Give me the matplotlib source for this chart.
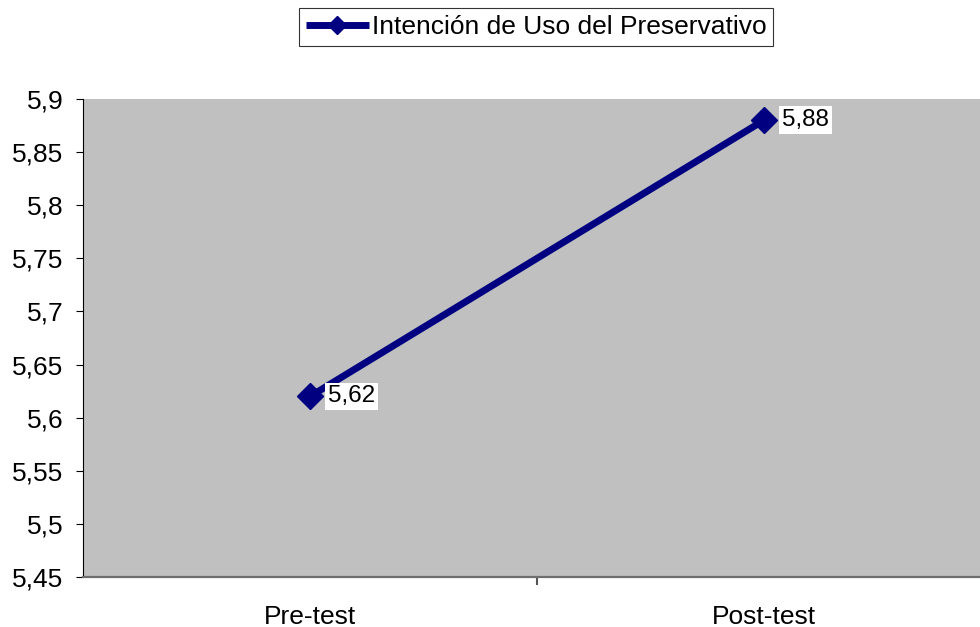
import matplotlib
matplotlib.use("Agg")
import matplotlib.pyplot as plt
from matplotlib.ticker import FixedLocator, FuncFormatter

categories = ["Pre-test", "Post-test"]
values = [5.62, 5.88]
series_name = "Intención de Uso del Preservativo"
y_ticks = [5.45, 5.5, 5.55, 5.6, 5.65, 5.7, 5.75, 5.8, 5.85, 5.9]

plt.rcParams['font.family'] = ['Liberation Sans', 'DejaVu Sans']
FS = 19

fig = plt.figure(figsize=(9.8, 6.27), dpi=100)
ax = fig.add_axes([83/980, 1-577/627, 908/980, 478/627])
ax.set_facecolor('#c0c0c0')

x = [i + 0.5 for i in range(len(categories))]
line, = ax.plot(x, values, color='#000080', lw=5, marker='D', markersize=13.5,
                solid_capstyle='butt', label=series_name, zorder=3, clip_on=False)

for xi, v in zip(x, values):
    ax.annotate(f"{v:.2f}".replace('.', ','), (xi, v), xytext=(18, 0),
                textcoords='offset pixels', ha='left', va='center', fontsize=17.5,
                bbox=dict(boxstyle='square,pad=0.12', fc='white', ec='none'), zorder=4)

ax.set_xlim(0, len(categories))
ax.set_ylim(5.45, 5.9)
ax.set_yticks(y_ticks)
ax.yaxis.set_major_formatter(FuncFormatter(lambda v, p: (f"{v:.2f}".rstrip('0').rstrip('.')).replace('.', ',')))
ax.tick_params(axis='y', direction='out', length=5, width=0.8, color='black', labelsize=FS, pad=9)

ax.xaxis.set_major_locator(FixedLocator(x))
ax.set_xticklabels(categories)
ax.xaxis.set_minor_locator(FixedLocator([1]))
ax.tick_params(axis='x', which='major', length=0, labelsize=FS, pad=20)
ax.tick_params(axis='x', which='minor', direction='out', length=6, width=1.5, color='#555555')

for s in ['top', 'right']:
    ax.spines[s].set_visible(False)
ax.spines['left'].set_color('black')
ax.spines['left'].set_linewidth(0.8)
ax.spines['bottom'].set_color('#6e6e6e')
ax.spines['bottom'].set_linewidth(1.6)

leg = fig.legend(handles=[line], loc='center', bbox_to_anchor=(536/980, 1-27/627),
                 fontsize=FS, frameon=True, fancybox=False, borderpad=0.25,
                 handlelength=2.4, handletextpad=0.1, borderaxespad=0, markerscale=0.7)
leg.get_frame().set_edgecolor('black')
leg.get_frame().set_linewidth(0.8)

fig.savefig('out.png', dpi=100)
